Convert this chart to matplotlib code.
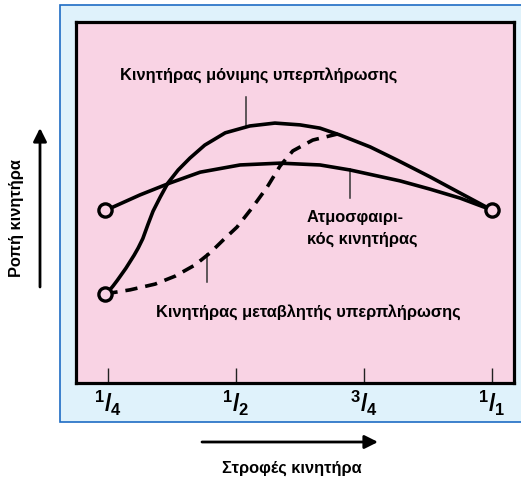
import matplotlib
matplotlib.use("Agg")
import matplotlib.pyplot as plt
from matplotlib.patches import Rectangle

plt.rcParams['font.family'] = ['Liberation Sans', 'DejaVu Sans']
plt.rcParams['font.weight'] = 'bold'
plt.rcParams['mathtext.fontset'] = 'custom'
plt.rcParams['mathtext.rm'] = 'Liberation Sans:bold'
plt.rcParams['mathtext.bf'] = 'Liberation Sans:bold'
plt.rcParams['mathtext.it'] = 'Liberation Sans:bold'

# ---- data (engine speed fraction, relative torque) ----
tick_pos = [0.25, 0.5, 0.75, 1.0]
tick_labels = [r'$^{1}/_{4}$', r'$^{1}/_{2}$', r'$^{3}/_{4}$', r'$^{1}/_{1}$']

atm_x = [0.245, 0.3125, 0.371, 0.430, 0.508, 0.586, 0.664, 0.723, 0.820, 0.879, 0.938, 1.0]
atm_y = [47.8, 52.1, 55.4, 58.4, 60.4, 60.9, 60.4, 59.0, 56.0, 53.7, 51.2, 47.9]

perm_x = [0.245, 0.253, 0.260, 0.268, 0.277, 0.285, 0.293, 0.301, 0.309, 0.318, 0.328,
          0.338, 0.352, 0.367, 0.387, 0.410, 0.439, 0.479, 0.527, 0.576, 0.625, 0.664,
          0.703, 0.762, 0.814, 0.879, 0.938, 1.0]
perm_y = [24.7, 25.7, 26.9, 28.4, 30.2, 31.8, 33.6, 35.4, 37.4, 40.0, 43.9,
          47.6, 51.5, 55.4, 59.0, 62.3, 65.9, 69.3, 71.2, 72.0, 71.5, 70.6,
          68.7, 65.4, 61.8, 57.1, 52.6, 47.9]

var_x = [0.245, 0.293, 0.342, 0.381, 0.420, 0.449, 0.475, 0.502, 0.533, 0.561, 0.586,
         0.611, 0.650, 0.699]
var_y = [24.7, 25.8, 27.4, 29.6, 32.7, 36.0, 39.6, 43.2, 48.8, 54.3, 60.1,
         64.3, 67.3, 69.0]

label_perm = 'Κινητήρας μόνιμης υπερπλήρωσης'
label_atm1 = 'Ατμοσφαιρι-'
label_atm2 = 'κός κινητήρας'
label_var = 'Κινητήρας μεταβλητής υπερπλήρωσης'
xlabel = 'Στροφές κινητήρα'
ylabel = 'Ροπή κινητήρα'

PINK = '#F9D3E4'
BLUE_BG = '#DFF2FB'
BLUE_EDGE = '#1E6CC4'
TXT = dict(family='Liberation Sans', weight='bold')

fig = plt.figure(figsize=(5.21, 4.79), dpi=100)
fig.patch.set_facecolor('white')

panel = Rectangle((60 / 521, (479 - 422) / 479), 1.0, (422 - 5) / 479,
                  transform=fig.transFigure, facecolor=BLUE_BG,
                  edgecolor=BLUE_EDGE, linewidth=1.2, zorder=-5)
fig.patches.append(panel)

ax = fig.add_axes([76 / 521, (479 - 383) / 479, (514 - 76) / 521, (383 - 22) / 479])
ax.set_zorder(5)
ax.set_facecolor(PINK)
ax.set_xlim(0.1875, 0.25 + (514 - 108) / 512)
ax.set_ylim(0, 100)
for s in ax.spines.values():
    s.set_linewidth(2.3)
    s.set_color('black')

ax.set_xticks(tick_pos)
ax.set_xticklabels(tick_labels, fontsize=17)
ax.tick_params(axis='x', direction='in', length=11, width=1.0, pad=4, color='#222222')
ax.set_yticks([])

lw = 2.6
ax.plot(atm_x, atm_y, color='black', lw=lw, solid_capstyle='round', zorder=3)
ax.plot(perm_x, perm_y, color='black', lw=lw, solid_capstyle='round',
        solid_joinstyle='round', zorder=3)
line_var, = ax.plot(var_x, var_y, color='black', lw=lw, zorder=3)
line_var.set_dashes((3.4, 2.2))

ax.plot([atm_x[0], perm_x[0], atm_x[-1]], [atm_y[0], perm_y[0], atm_y[-1]],
        linestyle='none', marker='o', markersize=9.5, markerfacecolor=PINK,
        markeredgecolor='black', markeredgewidth=2.4, zorder=4)

# leader lines
lc = '#333333'
ax.plot([0.5195, 0.5195], [79.2, 71.0], color=lc, lw=1.1, zorder=2)
ax.plot([0.7227, 0.7227], [59.2, 51.2], color=lc, lw=1.1, zorder=2)
ax.plot([0.443, 0.443], [35.6, 28.0], color=lc, lw=1.1, zorder=2)

fs = 11.8
ax.text(0.2734, 83.9, label_perm, fontsize=fs, va='baseline', ha='left', **TXT)
ax.text(0.6387, 44.6, label_atm1, fontsize=fs, va='baseline', ha='left', **TXT)
ax.text(0.6387, 38.5, label_atm2, fontsize=fs, va='baseline', ha='left', **TXT)
ax.text(0.3438, 18.3, label_var, fontsize=fs, va='baseline', ha='left', **TXT)

fig.text(292 / 521, (479 - 468) / 479, xlabel, fontsize=fs, ha='center', va='center', **TXT)
fig.text(17 / 521, (479 - 218) / 479, ylabel, fontsize=fs, ha='center', va='center',
         rotation=90, **TXT)
ap = dict(arrowstyle='-|>', mutation_scale=20, lw=2.0, color='black',
          shrinkA=0, shrinkB=0)
fig.add_artist(plt.Annotation('', xy=(378 / 521, (479 - 442) / 479),
                              xytext=(202 / 521, (479 - 442) / 479),
                              xycoords='figure fraction', textcoords='figure fraction',
                              arrowprops=ap))
fig.add_artist(plt.Annotation('', xy=(40 / 521, (479 - 128) / 479),
                              xytext=(40 / 521, (479 - 287) / 479),
                              xycoords='figure fraction', textcoords='figure fraction',
                              arrowprops=ap))

fig.savefig('out.png', dpi=100)
